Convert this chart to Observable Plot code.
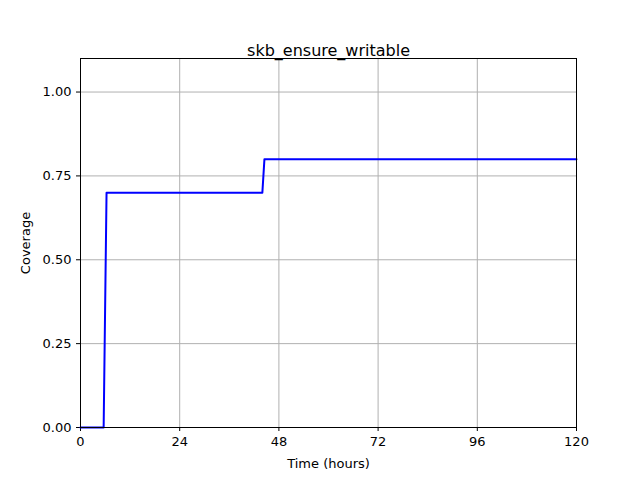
<!DOCTYPE html>
<html><head><meta charset="utf-8">
<script src="https://cdn.jsdelivr.net/npm/d3@7"></script>
<script src="https://cdn.jsdelivr.net/npm/@observablehq/plot@0.6"></script>
<style>body{margin:0;background:#fff}</style>
</head><body><div id="c"></div>
<script>
const times = [0, 5.6, 6.3, 44, 44.5, 120];
const coverage = [0, 0, 0.7, 0.7, 0.8, 0.8];
const xTicks = [0, 24, 48, 72, 96, 120];
const yTicks = [0, 0.25, 0.5, 0.75, 1.0];
const title = "skb_ensure_writable";
const data = times.map((t, i) => ({t, v: coverage[i]}));
const chart = Plot.plot({
  width: 640, height: 480,
  marginLeft: 80, marginRight: 64, marginTop: 58, marginBottom: 53,
  style: {fontFamily: "DejaVu Sans", fontSize: "13px", color: "#000", background: "#fff"},
  x: {domain: [0, 120], ticks: xTicks, label: "Time (hours)", labelAnchor: "center", labelArrow: "none", labelOffset: 40, tickSize: 4},
  y: {domain: [0, 1.1], ticks: yTicks, tickFormat: d3.format(".2f"), label: "Coverage", labelAnchor: "center", labelArrow: "none", labelOffset: 60, tickSize: 4},
  marks: [
    Plot.gridX(xTicks, {stroke: "#b0b0b0", strokeOpacity: 1}),
    Plot.gridY(yTicks, {stroke: "#b0b0b0", strokeOpacity: 1}),
    Plot.line(data, {x: "t", y: "v", stroke: "blue", strokeWidth: 2}),
    Plot.frame({stroke: "#000"}),
    Plot.text([title], {frameAnchor: "top", dy: -14, fontSize: 16, text: d => d})
  ]
});
document.getElementById("c").appendChild(chart);
</script></body></html>
